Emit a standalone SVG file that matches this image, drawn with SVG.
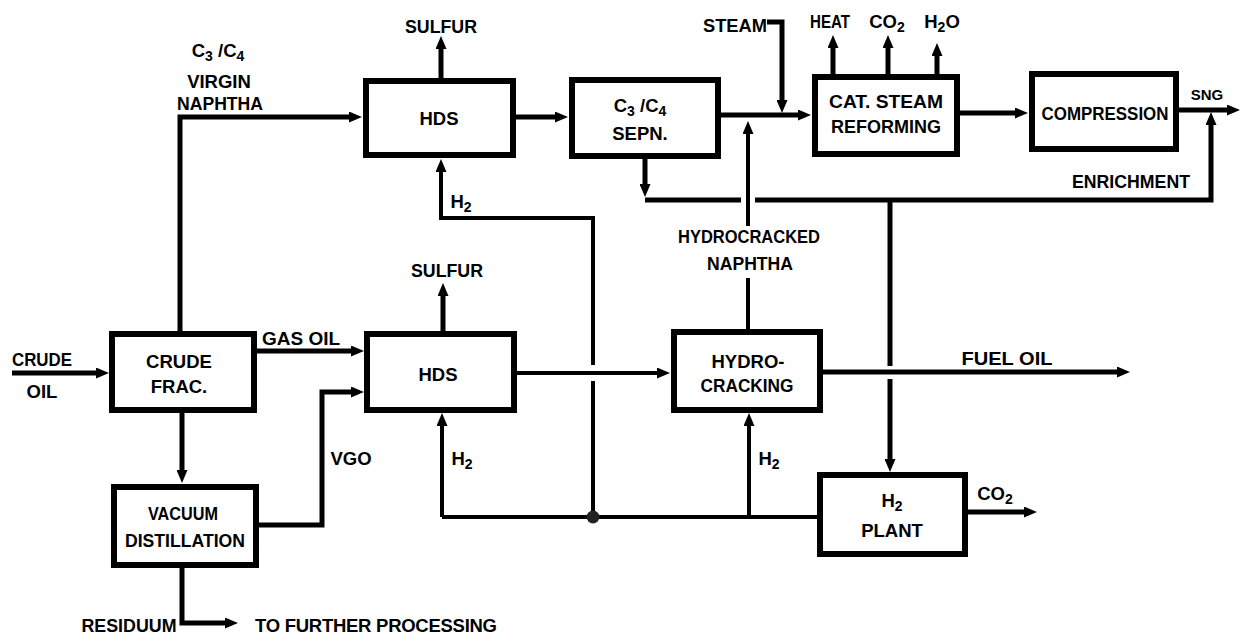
<svg xmlns="http://www.w3.org/2000/svg" width="1242" height="641" viewBox="0 0 1242 641">
<style>
.t{font-family:"Liberation Sans",Arial,sans-serif;font-weight:bold;font-size:18.5px;text-anchor:middle;fill:#000}
.s{font-size:14px}
.box{fill:#fff;stroke:#000;stroke-width:6}
.ln{fill:none;stroke:#000;stroke-width:5}
.th{stroke-width:4}
.ar{marker-end:url(#ah)}
</style>
<defs>
<marker id="ah" markerUnits="userSpaceOnUse" markerWidth="13" markerHeight="11" refX="1" refY="5.5" orient="auto">
<path d="M0,0 L13,5.5 L0,11 z" fill="#000"/>
</marker>
</defs>
<rect width="1242" height="641" fill="#fff"/>
<g id="connectors">
<path class="ln ar" d="M12,373 H97"/>
<path class="ln ar" d="M180,331 V117 H350"/>
<path class="ln ar" d="M441,78 V48"/>
<path class="ln ar" d="M516,117 H556"/>
<path class="ln ar" d="M721,115 H799"/>
<path class="ln ar" d="M767,22 H782 V101"/>
<path class="ln ar" d="M833,74 V47"/>
<path class="ln ar" d="M888,74 V47"/>
<path class="ln ar" d="M937,74 V55"/>
<path class="ln ar" d="M960,113 H1016"/>
<path class="ln ar" d="M1179,110 H1228"/>
<path class="ln ar" d="M645,159 V185"/>
<path class="ln" d="M645,200 H741"/>
<path class="ln ar" d="M755,200 H1211 V124"/>
<path class="ln" d="M890,200 V366"/>
<path class="ln ar" d="M890,379 V460"/>
<path class="ln th" d="M748,330 V278"/>
<path class="ln th ar" d="M748,226 V133"/>
<path class="ln ar" d="M257,351 H352"/>
<path class="ln ar" d="M259,525 H322 V392 H352"/>
<path class="ln ar" d="M182,413 V471"/>
<path class="ln ar" d="M182,568 V623 H226"/>
<path class="ln ar" d="M443,331 V295"/>
<path class="ln th ar" d="M517,373 H658"/>
<path class="ln ar" d="M823,372 H1118"/>
<path class="ln th" d="M442,517 H818"/>
<path class="ln th ar" d="M442,517 V425"/>
<path class="ln th ar" d="M749,517 V425"/>
<path class="ln th" d="M593,517 V381"/>
<path class="ln th ar" d="M593,365 V218 H441 V171"/>
<path class="ln ar" d="M968,512 H1025"/>
<circle cx="593" cy="517" r="6.5" fill="#222"/>
</g>
<g id="hds1"><rect class="box" x="366" y="81" width="147" height="74"/><text class="t" x="439" y="125">HDS</text></g>
<g id="sepn"><rect class="box" x="572" y="80" width="146" height="76"/>
<text class="t" x="640" y="112">C<tspan class="s" dy="4">3</tspan><tspan dy="-4"> /C</tspan><tspan class="s" dy="4">4</tspan></text>
<text class="t" x="640" y="140">SEPN.</text></g>
<g id="reforming"><rect class="box" x="815" y="77" width="142" height="77"/>
<text class="t" x="886" y="108" textLength="114" lengthAdjust="spacingAndGlyphs">CAT. STEAM</text><text class="t" x="886" y="133" textLength="110" lengthAdjust="spacingAndGlyphs">REFORMING</text></g>
<g id="compression"><rect class="box" x="1032" y="74" width="144" height="75"/>
<text class="t" x="1105" y="120" textLength="127" lengthAdjust="spacingAndGlyphs">COMPRESSION</text></g>
<g id="crudefrac"><rect class="box" x="112" y="334" width="142" height="76"/>
<text class="t" x="179" y="368">CRUDE</text><text class="t" x="179" y="393">FRAC.</text></g>
<g id="hds2"><rect class="box" x="367" y="334" width="147" height="76"/><text class="t" x="438" y="381">HDS</text></g>
<g id="hydrocracking"><rect class="box" x="674" y="332" width="146" height="78"/>
<text class="t" x="748" y="368">HYDRO-</text><text class="t" x="747" y="392" textLength="93" lengthAdjust="spacingAndGlyphs">CRACKING</text></g>
<g id="vacuum"><rect class="box" x="114" y="487" width="142" height="78"/>
<text class="t" x="183" y="520" textLength="70" lengthAdjust="spacingAndGlyphs">VACUUM</text><text class="t" x="185" y="547" textLength="120" lengthAdjust="spacingAndGlyphs">DISTILLATION</text></g>
<g id="h2plant"><rect class="box" x="820" y="475" width="145" height="79"/>
<text class="t" x="892" y="507">H<tspan class="s" dy="4">2</tspan></text><text class="t" x="892" y="537">PLANT</text></g>
<g id="labels">
<text class="t" x="218" y="57">C<tspan class="s" dy="4">3</tspan><tspan dy="-4"> /C</tspan><tspan class="s" dy="4">4</tspan></text>
<text class="t" x="219" y="88">VIRGIN</text>
<text class="t" x="220" y="110" textLength="86" lengthAdjust="spacingAndGlyphs">NAPHTHA</text>
<text class="t" x="441" y="33" textLength="72" lengthAdjust="spacingAndGlyphs">SULFUR</text>
<text class="t" x="735" y="32" textLength="64" lengthAdjust="spacingAndGlyphs">STEAM</text>
<text class="t" x="830" y="28" textLength="40" lengthAdjust="spacingAndGlyphs">HEAT</text>
<text class="t" x="887" y="28">CO<tspan class="s" dy="4">2</tspan></text>
<text class="t" x="942" y="28">H<tspan class="s" dy="4">2</tspan><tspan dy="-4">O</tspan></text>
<text class="t" x="1207" y="100" style="font-size:15px">SNG</text>
<text class="t" x="1131" y="188" textLength="118" lengthAdjust="spacingAndGlyphs">ENRICHMENT</text>
<text class="t" x="461" y="208">H<tspan class="s" dy="4">2</tspan></text>
<text class="t" x="749" y="243" textLength="142" lengthAdjust="spacingAndGlyphs">HYDROCRACKED</text>
<text class="t" x="750" y="270" textLength="86" lengthAdjust="spacingAndGlyphs">NAPHTHA</text>
<text class="t" x="447" y="277" textLength="72" lengthAdjust="spacingAndGlyphs">SULFUR</text>
<text class="t" x="42" y="366" textLength="60" lengthAdjust="spacingAndGlyphs">CRUDE</text>
<text class="t" x="42" y="398">OIL</text>
<text class="t" x="301" y="345" textLength="78" lengthAdjust="spacingAndGlyphs">GAS OIL</text>
<text class="t" x="351" y="465">VGO</text>
<text class="t" x="462" y="465">H<tspan class="s" dy="4">2</tspan></text>
<text class="t" x="769" y="465">H<tspan class="s" dy="4">2</tspan></text>
<text class="t" x="1007" y="365" textLength="91" lengthAdjust="spacingAndGlyphs">FUEL OIL</text>
<text class="t" x="995" y="500">CO<tspan class="s" dy="4">2</tspan></text>
<text class="t" x="129" y="632" textLength="95" lengthAdjust="spacingAndGlyphs">RESIDUUM</text>
<text class="t" x="376" y="632" textLength="242" lengthAdjust="spacing">TO FURTHER PROCESSING</text>
</g>
</svg>
